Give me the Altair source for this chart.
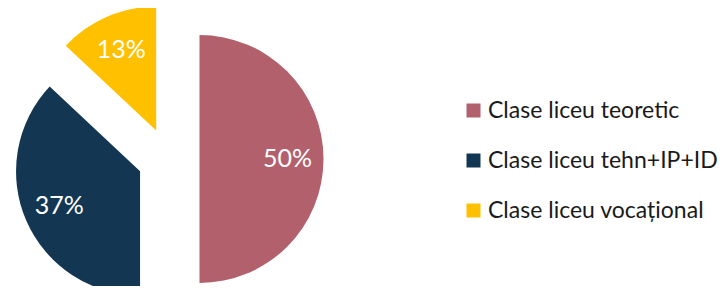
import altair as alt
import pandas as pd

categories = ["Clase liceu teoretic", "Clase liceu tehn+IP+ID", "Clase liceu vocațional"]
values = [50, 37, 13]
labels = ["50%", "37%", "13%"]
colors = ["#B3606D", "#133652", "#FFC000"]

df = pd.DataFrame({"category": categories, "value": values, "label": labels})

CX, CY = 160.5, 151.0   # pie centre (layout)
EXPLODE = 31.0          # explosion distance
R = 124                 # radius
RL = 88                 # label radius
FONT = "Lato"

base = alt.Chart(df).transform_window(
    idx="row_number()"
).transform_window(
    cum="sum(value)", sort=[alt.SortField("idx")], frame=[None, 0]
).transform_joinaggregate(
    total="sum(value)"
).transform_calculate(
    a1="2*PI*datum.cum/datum.total",
    a0="2*PI*(datum.cum-datum.value)/datum.total",
).transform_calculate(
    mid="(datum.a0+datum.a1)/2"
).transform_calculate(
    px=f"{CX}+{EXPLODE}*sin(datum.mid)",
    py=f"{CY}-{EXPLODE}*cos(datum.mid)",
).transform_calculate(
    lx=f"datum.px+{RL}*sin(datum.mid)",
    ly=f"datum.py-{RL}*cos(datum.mid)",
)

arcs = base.mark_arc(outerRadius=R, stroke=None).encode(
    x=alt.X("px:Q", scale=None, axis=None),
    y=alt.Y("py:Q", scale=None, axis=None),
    theta=alt.Theta("a0:Q", scale=None),
    theta2="a1:Q",
    color=alt.Color(
        "category:N",
        scale=alt.Scale(domain=categories, range=colors),
        sort=categories,
        legend=alt.Legend(
            title=None,
            orient="none",
            legendX=454,
            legendY=91,
            symbolType="square",
            symbolSize=196,
            symbolStrokeWidth=0,
            labelFontSize=23,
            labelFont=FONT,
            labelColor="#1a1a1a",
            labelOffset=3,
            rowPadding=26,
            padding=0,
            labelLimit=400,
        ),
    ),
)

texts = base.mark_text(
    color="white", fontSize=25, font=FONT, align="center", baseline="middle"
).encode(
    x=alt.X("lx:Q", scale=None, axis=None),
    y=alt.Y("ly:Q", scale=None, axis=None),
    text="label:N",
)

chart = alt.layer(arcs, texts).properties(
    width=710, height=278, padding=0, autosize=alt.AutoSizeParams(type="none")
).configure_view(stroke=None)

chart.save("out.html", embed_options={"renderer": "svg", "actions": False})
